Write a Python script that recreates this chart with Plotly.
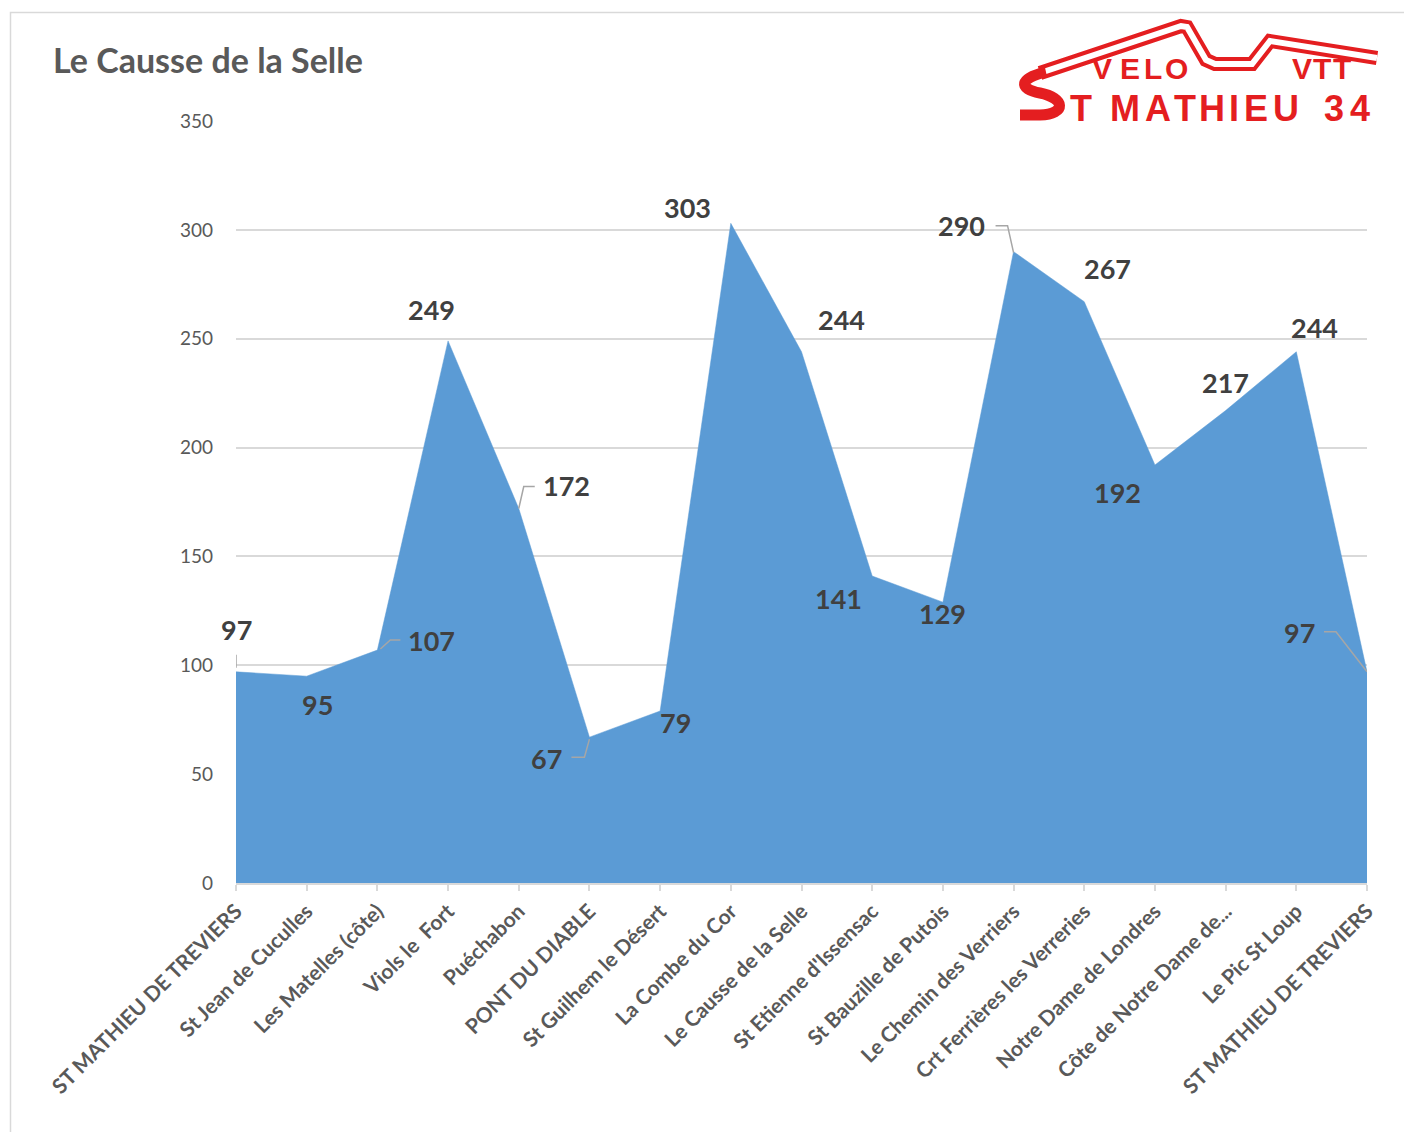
import plotly.graph_objects as go

categories = ["ST MATHIEU DE TREVIERS", "St Jean de Cuculles", "Les Matelles (côte)", "Viols le  Fort",
              "Puéchabon", "PONT DU DIABLE", "St Guilhem le Désert", "La Combe du Cor",
              "Le Causse de la Selle", "St Etienne d'Issensac", "St Bauzille de Putois",
              "Le Chemin des Verriers", "Crt Ferrières les Verreries", "Notre Dame de Londres",
              "Côte de Notre Dame de...", "Le Pic St Loup", "ST MATHIEU DE TREVIERS"]
altitudes = [97, 95, 107, 249, 172, 67, 79, 303, 244, 141, 129, 290, 267, 192, 217, 244, 97]
y_ticks = [0, 50, 100, 150, 200, 250, 300, 350]

# label offsets (pixels) relative to each point
label_dx = [0, 11, 54, -17, 48, -43, 15, -43, 40, -34, 0, -52, 23, -37, 0, 18, -68]
label_dy = [42, -28, 10, 31, 23, -21, -11, 16, 32, -22, -11, 26, 33, -28, 28, 24, 39]
# leader lines (pixel offsets, y up) for some labels
leaders = {
    0: [(0, 4), (0, 17)],
    2: [(3, 1), (13, 10), (23, 10)],
    4: [(0, 0), (5, 22), (16, 22)],
    5: [(0, -2), (-5, -20), (-18, -20)],
    11: [(0, -1), (-6, 26), (-18, 26)],
    16: [(0, 0), (-31, 40), (-43, 40)],
}

OFF = 8  # page body margin
W, H = 1412 - OFF, 1132 - OFF
L, R, T, B = 236, 1367, 121, 883

def px(x):
    return (x - L) / (R - L)

def py(y):
    return (B - y) / (B - T)

fig = go.Figure()
fig.add_trace(go.Scatter(
    x=list(range(len(altitudes))), y=altitudes, mode="lines",
    fill="tozeroy", fillcolor="#5B9BD5",
    line=dict(color="#5B9BD5", width=0.5), hoverinfo="x+y", showlegend=False,
))

annotations = []
for i, v in enumerate(altitudes):
    annotations.append(dict(
        x=i, y=v, xref="x", yref="y", text=str(v), showarrow=False,
        xshift=label_dx[i], yshift=label_dy[i],
        font=dict(family="Lato", size=27, color="#404040", weight="bold"),
    ))

shapes = []
for i, pts in leaders.items():
    path = "M" + " L".join(f"{a},{b}" for a, b in pts)
    shapes.append(dict(
        type="path", xref="x", yref="y", xsizemode="pixel", ysizemode="pixel",
        xanchor=i, yanchor=altitudes[i], path=path,
        line=dict(color="#A6A6A6", width=1.5), layer="above",
    ))

# chart border
shapes.append(dict(type="rect", xref="paper", yref="paper",
                   x0=px(10.5), y0=py(12.5), x1=px(1440), y1=py(1160),
                   line=dict(color="#D9D9D9", width=1.5), layer="below"))

# logo road
road = [(1040, 73), (1181, 26), (1187, 27), (1206, 60), (1215, 64), (1252, 64), (1270, 41), (1377, 58)]
road_path = "M" + " L".join(f"{px(a)},{py(b)}" for a, b in road)
shapes.append(dict(type="path", xref="paper", yref="paper", path=road_path,
                   line=dict(color="#E41E20", width=14), layer="above"))
shapes.append(dict(type="path", xref="paper", yref="paper", path=road_path,
                   line=dict(color="white", width=6), layer="above"))
s_pts = [(1046, 72), (1019, 78), (1018, 89), (1040, 93), (1065, 98), (1067, 114), (1040, 115), (1020, 115)]
s_path = (f"M{px(s_pts[0][0])},{py(s_pts[0][1])} "
          f"C{px(s_pts[1][0])},{py(s_pts[1][1])} {px(s_pts[2][0])},{py(s_pts[2][1])} {px(s_pts[3][0])},{py(s_pts[3][1])} "
          f"C{px(s_pts[4][0])},{py(s_pts[4][1])} {px(s_pts[5][0])},{py(s_pts[5][1])} {px(s_pts[6][0])},{py(s_pts[6][1])} "
          f"L{px(s_pts[7][0])},{py(s_pts[7][1])}")
shapes.append(dict(type="path", xref="paper", yref="paper", path=s_path,
                   line=dict(color="#E41E20", width=11), layer="above"))

logo_letters = [
    ("V", 1102, 68, 30), ("E", 1130, 68, 30), ("L", 1153, 68, 30), ("O", 1176, 68, 30),
    ("V", 1302, 68, 30), ("T", 1322, 68, 30), ("T", 1342, 68, 30),
    ("T", 1081, 108, 36), ("M", 1125, 108, 36), ("A", 1158, 108, 36), ("T", 1185, 108, 36),
    ("H", 1212, 108, 36), ("I", 1234, 108, 36), ("E", 1256, 108, 36), ("U", 1286, 108, 36),
    ("3", 1334, 108, 36), ("4", 1360, 108, 36),
]
for ch, x, y, s in logo_letters:
    annotations.append(dict(
        x=px(x), y=py(y), xref="paper", yref="paper", text=f"<b>{ch}</b>", showarrow=False,
        xanchor="center", yanchor="middle",
        font=dict(family="Liberation Sans", size=s, color="#E41E20"),
    ))

# title
annotations.append(dict(
    x=px(51), y=py(60), xref="paper", yref="paper", text="Le Causse de la Selle",
    showarrow=False, xanchor="left", yanchor="middle",
    font=dict(family="Lato", size=34, color="#595959", weight="bold"),
))

fig.update_layout(
    width=W, height=H,
    margin=dict(l=L - OFF, r=W - (R - OFF), t=T - OFF, b=H - (B - OFF)),
    paper_bgcolor="white", plot_bgcolor="white",
    annotations=annotations, shapes=shapes,
    xaxis=dict(
        tickmode="array", tickvals=list(range(len(categories))), ticktext=categories,
        range=[0, len(categories) - 1], tickangle=-45, showgrid=False, zeroline=False,
        showline=True, linecolor="#D9D9D9", linewidth=1.5,
        ticks="outside", ticklen=6, tickcolor="#D9D9D9", tickwidth=1.5,
        tickfont=dict(family="Lato", size=21, color="#595959", weight="bold"),
    ),
    yaxis=dict(
        tickmode="array", tickvals=y_ticks, range=[0, 350],
        showgrid=True, gridcolor="#D9D9D9", gridwidth=1.5, zeroline=False,
        showline=False, ticks="", ticklabelstandoff=22,
        tickfont=dict(family="Lato", size=19, color="#595959"),
    ),
)

fig.write_html("out.html")
